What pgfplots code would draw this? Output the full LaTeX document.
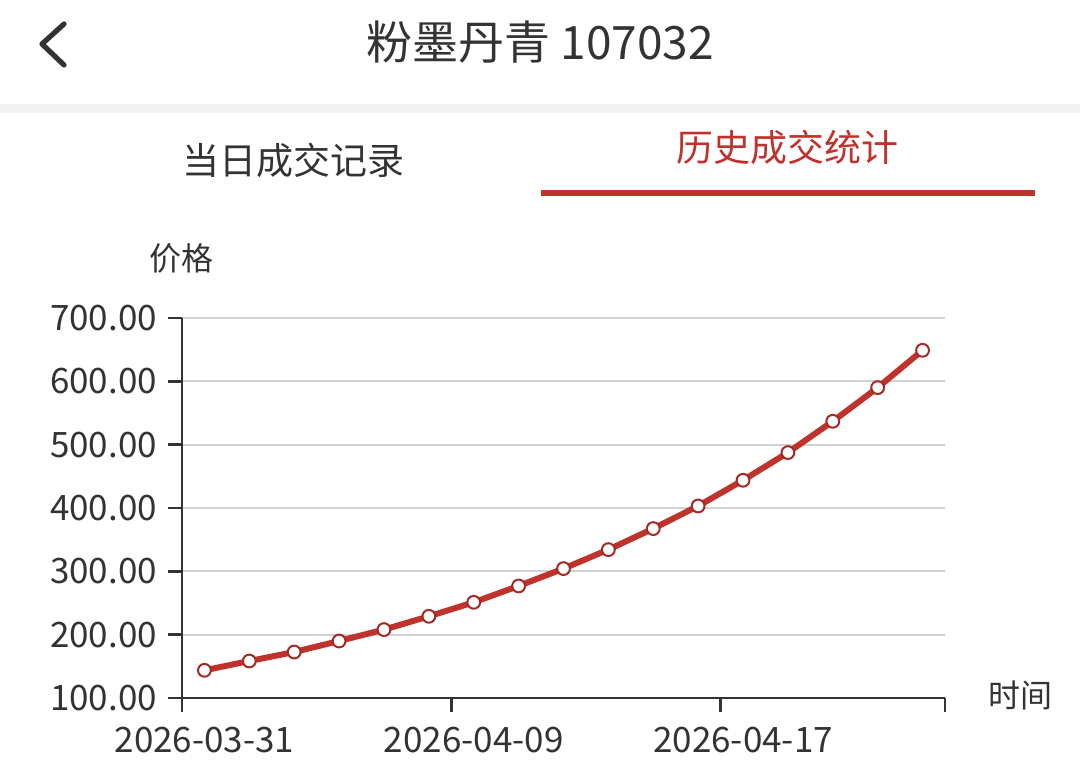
\documentclass[border=0pt]{standalone}
\usepackage{fontspec}
\setmainfont{Noto Sans CJK SC}
\usepackage{pgfplots}
\pgfplotsset{compat=1.18}
\definecolor{ink}{HTML}{333333}
\definecolor{jred}{HTML}{C0322C}
\definecolor{gridc}{HTML}{D2D2D2}
\begin{document}
\begin{tikzpicture}
\fill[white] (0,0) rectangle (540pt,-387pt);
% header
\draw[ink, line width=2.6pt, line cap=round, line join=round] (32pt,-12pt) -- (21pt,-22pt) -- (32pt,-32.5pt);
\node[ink, font=\fontsize{23}{27}\selectfont] at (270pt,-21pt) {粉墨丹青 107032};
\fill[black!5] (0,-52pt) rectangle (540pt,-56.5pt);
% tabs
\node[ink, font=\fontsize{18.5}{22}\selectfont] at (146.5pt,-80pt) {当日成交记录};
\node[jred, font=\fontsize{18.5}{22}\selectfont] at (393.5pt,-73.5pt) {历史成交统计};
\draw[jred, line width=3pt] (270.5pt,-96.5pt) -- (517.5pt,-96.5pt);
\begin{axis}[at={(91pt,-349pt)}, anchor=south west, scale only axis,
  width=381.5pt, height=190pt, clip=false,
  xmin=-0.5, xmax=16.5, ymin=100, ymax=700,
  axis x line=bottom, axis y line=left,
  axis line style={-, ink, line width=1.4pt},
  xtick={-0.5,5.5,11.5,16.5}, xticklabels={},
  extra x ticks={0,6,12},
  extra x tick labels={2026-03-31,2026-04-09,2026-04-17},
  extra x tick style={major tick length=0pt, xticklabel style={yshift=-11pt}},
  ytick={100,200,300,400,500,600,700},
  yticklabels={100.00,200.00,300.00,400.00,500.00,600.00,700.00},
  yticklabel style={xshift=-2pt},
  tick align=outside, major tick length=7pt,
  tick style={ink, line width=1.4pt},
  ymajorgrids, grid style={gridc, line width=1pt},
  ticklabel style={font=\fontsize{17.5}{20}\selectfont, text=ink}]
\addplot[jred, line width=3pt, mark=*, mark size=3.2pt,
  mark options={fill=white, draw=jred!85!black, line width=1pt}]
  coordinates {(0,143.7)(1,158.4)(2,172.6)(3,190.0)(4,208.0)(5,229.0)(6,251.1)
  (7,276.9)(8,304.3)(9,334.3)(10,367.5)(11,403.2)(12,443.8)(13,487.5)
  (14,536.9)(15,590.1)(16,649.0)};
\end{axis}
\node[ink, font=\fontsize{16}{20}\selectfont] at (90.5pt,-129pt) {价格};
\node[ink, font=\fontsize{16}{20}\selectfont] at (510pt,-347.5pt) {时间};
\end{tikzpicture}
\end{document}
